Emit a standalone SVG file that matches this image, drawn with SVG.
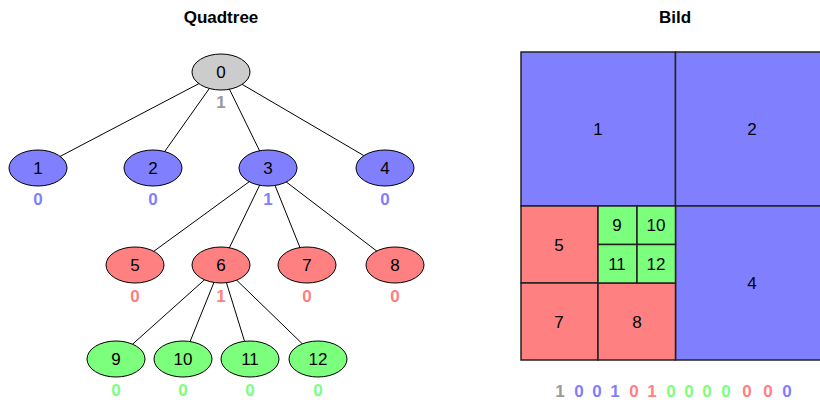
<svg xmlns="http://www.w3.org/2000/svg" width="820" height="400" viewBox="0 0 820 400">
<style>
text{font-family:"Liberation Sans",Arial,sans-serif;font-size:17px;text-anchor:middle}
.t{font-weight:bold}
.n ellipse{stroke:#000;stroke-width:1}
.g{fill:#cccccc}.b{fill:#8080ff}.r{fill:#ff8080}.gr{fill:#7cff7c}
.lb{font-weight:bold}
.cg{fill:#999999}.cb{fill:#8080ff}.cr{fill:#ff8080}.cgr{fill:#7cff7c}
#edges line{stroke:#000;stroke-width:1}
.cell{stroke:#222;stroke-width:1.5}
</style>
<rect width="820" height="400" fill="#fff"/>
<text class="t" x="221" y="23">Quadtree</text>
<text class="t" x="675" y="23">Bild</text>
<g id="edges">
<line x1="221" y1="72" x2="38" y2="168"/>
<line x1="221" y1="72" x2="153" y2="168"/>
<line x1="221" y1="72" x2="268" y2="168"/>
<line x1="221" y1="72" x2="385" y2="168"/>
<line x1="268" y1="168" x2="135" y2="265"/>
<line x1="268" y1="168" x2="221" y2="265"/>
<line x1="268" y1="168" x2="307" y2="265"/>
<line x1="268" y1="168" x2="395" y2="265"/>
<line x1="221" y1="265" x2="116" y2="359"/>
<line x1="221" y1="265" x2="183" y2="359"/>
<line x1="221" y1="265" x2="250" y2="359"/>
<line x1="221" y1="265" x2="318" y2="359"/>
</g>
<g id="n0" class="n"><ellipse class="g" cx="221" cy="72" rx="29" ry="18"/><text x="221" y="78">0</text><text class="lb cg" x="221" y="108">1</text></g>
<g id="n1" class="n"><ellipse class="b" cx="38" cy="168" rx="29" ry="18"/><text x="38" y="174">1</text><text class="lb cb" x="38" y="205">0</text></g>
<g id="n2" class="n"><ellipse class="b" cx="153" cy="168" rx="29" ry="18"/><text x="153" y="174">2</text><text class="lb cb" x="153" y="205">0</text></g>
<g id="n3" class="n"><ellipse class="b" cx="268" cy="168" rx="29" ry="18"/><text x="268" y="174">3</text><text class="lb cb" x="268" y="205">1</text></g>
<g id="n4" class="n"><ellipse class="b" cx="385" cy="168" rx="29" ry="18"/><text x="385" y="174">4</text><text class="lb cb" x="385" y="205">0</text></g>
<g id="n5" class="n"><ellipse class="r" cx="135" cy="265" rx="29" ry="18"/><text x="135" y="271">5</text><text class="lb cr" x="135" y="302">0</text></g>
<g id="n6" class="n"><ellipse class="r" cx="221" cy="265" rx="29" ry="18"/><text x="221" y="271">6</text><text class="lb cr" x="221" y="302">1</text></g>
<g id="n7" class="n"><ellipse class="r" cx="307" cy="265" rx="29" ry="18"/><text x="307" y="271">7</text><text class="lb cr" x="307" y="302">0</text></g>
<g id="n8" class="n"><ellipse class="r" cx="395" cy="265" rx="29" ry="18"/><text x="395" y="271">8</text><text class="lb cr" x="395" y="302">0</text></g>
<g id="n9" class="n"><ellipse class="gr" cx="116" cy="359" rx="29" ry="18"/><text x="116" y="365">9</text><text class="lb cgr" x="116" y="396">0</text></g>
<g id="n10" class="n"><ellipse class="gr" cx="183" cy="359" rx="29" ry="18"/><text x="183" y="365">10</text><text class="lb cgr" x="183" y="396">0</text></g>
<g id="n11" class="n"><ellipse class="gr" cx="250" cy="359" rx="29" ry="18"/><text x="250" y="365">11</text><text class="lb cgr" x="250" y="396">0</text></g>
<g id="n12" class="n"><ellipse class="gr" cx="318" cy="359" rx="29" ry="18"/><text x="318" y="365">12</text><text class="lb cgr" x="318" y="396">0</text></g>
<g id="image">
<rect class="cell b" x="521" y="52" width="154.5" height="154"/>
<rect class="cell b" x="675.5" y="52" width="154.5" height="154"/>
<rect class="cell b" x="675.5" y="206" width="154.5" height="154"/>
<rect class="cell r" x="521" y="206" width="77" height="77"/>
<rect class="cell r" x="521" y="283" width="77" height="77"/>
<rect class="cell r" x="598" y="283" width="77.5" height="77"/>
<rect class="cell gr" x="598" y="206" width="39" height="38.5"/>
<rect class="cell gr" x="637" y="206" width="38.5" height="38.5"/>
<rect class="cell gr" x="598" y="244.5" width="39" height="38.5"/>
<rect class="cell gr" x="637" y="244.5" width="38.5" height="38.5"/>
<text x="598" y="135">1</text>
<text x="752" y="135">2</text>
<text x="752" y="289">4</text>
<text x="559" y="251">5</text>
<text x="559" y="328">7</text>
<text x="637" y="328">8</text>
<text x="617" y="231">9</text>
<text x="656" y="231">10</text>
<text x="617" y="270">11</text>
<text x="656" y="270">12</text>
</g>
<g id="bits" class="lb">
<text class="cg" x="560" y="397">1</text>
<text class="cb" x="579" y="397">0</text>
<text class="cb" x="597" y="397">0</text>
<text class="cb" x="615" y="397">1</text>
<text class="cr" x="634" y="397">0</text>
<text class="cr" x="652" y="397">1</text>
<text class="cgr" x="671" y="397">0</text>
<text class="cgr" x="689" y="397">0</text>
<text class="cgr" x="707" y="397">0</text>
<text class="cgr" x="726" y="397">0</text>
<text class="cr" x="747" y="397">0</text>
<text class="cr" x="768" y="397">0</text>
<text class="cb" x="787" y="397">0</text>
</g>
</svg>
